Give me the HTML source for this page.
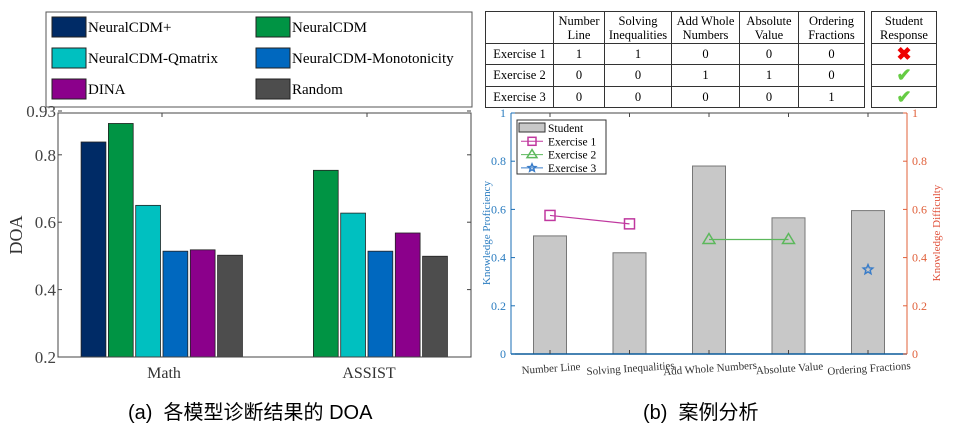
<!DOCTYPE html>
<html><head><meta charset="utf-8"><style>
body{margin:0;width:965px;height:442px;background:#fff;overflow:hidden;font-family:"Liberation Serif",serif}
svg{position:absolute;left:0;top:0}
.cap{position:absolute;top:396px;font-family:"Liberation Sans","Noto Sans CJK SC",sans-serif;font-size:20px}
table{position:absolute;border-collapse:collapse;font-family:"Liberation Serif",serif;font-size:12.5px;text-align:center}
td{border:1px solid #333;padding:0;line-height:14px}
</style></head><body>
<svg width="965" height="442" id="svg">
<g id="left"></g>
<g id="right"></g>
</svg>
<table style="left:485px;top:11px;width:380px;height:97px">
<tr style="height:32px"><td style="width:67px"></td><td style="width:50px">Number<br>Line</td><td style="width:66px">Solving<br>Inequalities</td><td style="width:67px">Add Whole<br>Numbers</td><td style="width:58px">Absolute<br>Value</td><td>Ordering<br>Fractions</td></tr>
<tr><td>Exercise 1</td><td>1</td><td>1</td><td>0</td><td>0</td><td>0</td></tr>
<tr><td>Exercise 2</td><td>0</td><td>0</td><td>1</td><td>1</td><td>0</td></tr>
<tr><td>Exercise 3</td><td>0</td><td>0</td><td>0</td><td>0</td><td>1</td></tr>
</table>
<table style="left:871px;top:11px;width:66px;height:97px">
<tr style="height:32px"><td>Student<br>Response</td></tr>
<tr><td style="color:#e00;font-size:18px;font-weight:bold">✖</td></tr>
<tr><td style="color:#6c4;font-size:18px;font-weight:bold">✔</td></tr>
<tr><td style="color:#6c4;font-size:18px;font-weight:bold">✔</td></tr>
</table>
<div class="cap" style="left:128px">(a)&nbsp; 各模型诊断结果的 DOA</div>
<div class="cap" style="left:643px">(b)&nbsp; 案例分析</div>
<script>
const models=["NeuralCDM+","NeuralCDM","NeuralCDM-Qmatrix","NeuralCDM-Monotonicity","DINA","Random"];
const colors=["#002b66","#009444","#00c0c0","#0068bf","#8b008b","#4d4d4d"];
const groups=["Math","ASSIST"];
const mathDOA=[0.838,0.893,0.650,0.514,0.518,0.502];
const assistDOA=[0.15,0.754,0.627,0.514,0.568,0.499];
const doaTicks=[0.2,0.4,0.6,0.8,0.93];
const skills=["Number Line","Solving Inequalities","Add Whole Numbers","Absolute Value","Ordering Fractions"];
const proficiency=[0.49,0.42,0.78,0.565,0.595];
const ex1=[[0,0.575],[1,0.54]];
const ex2=[[2,0.475],[3,0.475]];
const ex3=[[4,0.35]];
const profTicks=[0,0.2,0.4,0.6,0.8,1];
const NS="http://www.w3.org/2000/svg";
function mk(p,t,a,txt){const e=document.createElementNS(NS,t);for(const k in a)e.setAttribute(k,a[k]);if(txt!=null)e.textContent=txt;p.appendChild(e);return e;}
const L=document.getElementById('left');
const lx0=58,lx1=471,ly=v=>357-(v-0.2)/0.73*246,gx=[162,367],bw=27.3;
mk(L,'rect',{x:46,y:12,width:426,height:95,fill:'#fff',stroke:'#555'});
models.forEach((m,i)=>{const cx=i%2?256:52,cy=17+Math.floor(i/2)*31;
 const r=mk(L,'rect',{x:cx,y:cy,width:34,height:20,fill:colors[i],stroke:'#222'});
 
 const t=mk(L,'text',{x:cx+36,y:cy+15,'font-size':15},m);
 });
[mathDOA,assistDOA].forEach((vals,g)=>vals.forEach((v,i)=>{if(v<=0.2)return;
 const x=gx[g]+(i-2.5)*bw-bw/2+1;
 const r=mk(L,'rect',{x:x,y:ly(v),width:bw-2.5,height:357-ly(v),fill:colors[i],stroke:'#222','stroke-width':0.8});
 }));
mk(L,'rect',{x:lx0,y:113,width:lx1-lx0,height:244,fill:'none',stroke:'#444'});
doaTicks.forEach(v=>{const y=ly(v);mk(L,'line',{x1:lx0,x2:lx0+4,y1:y,y2:y,stroke:'#444'});mk(L,'line',{x1:lx1,x2:lx1-4,y1:y,y2:y,stroke:'#444'});
 const t=mk(L,'text',{x:56,y:y+6,'text-anchor':'end','font-size':17,fill:'#444'},String(v));});
groups.forEach((g,i)=>{mk(L,'line',{x1:gx[i],x2:gx[i],y1:113,y2:117,stroke:'#444'});
 const t=mk(L,'text',{x:gx[i]+2,y:378,'text-anchor':'middle','font-size':16,fill:'#333'},g);});
const yt=mk(L,'text',{x:22,y:235,'text-anchor':'middle','font-size':18,fill:'#333',transform:'rotate(-90 22 235)'},'DOA');
const R=document.getElementById('right');
const rx0=511,rx1=907,ry=v=>354-v*241,cxs=i=>550+i*79.5;
proficiency.forEach((v,i)=>{const r=mk(R,'rect',{x:cxs(i)-16.5,y:ry(v),width:33,height:354-ry(v),fill:'#c8c8c8',stroke:'#777'});});
function series(pts,col,sym,name){const g=mk(R,'g',{});
 if(pts.length>1)mk(g,'polyline',{points:pts.map(p=>cxs(p[0])+','+ry(p[1])).join(' '),fill:'none',stroke:col,'stroke-width':1.2});
 pts.forEach(p=>marker(g,cxs(p[0]),ry(p[1]),col,sym,5));}
function marker(g,x,y,col,sym,s){if(sym=='sq')mk(g,'rect',{x:x-s,y:y-s,width:2*s,height:2*s,fill:'none',stroke:col,'stroke-width':1.5});
 else if(sym=='tri')mk(g,'polygon',{points:`${x},${y-s-1} ${x-s-1},${y+s-1} ${x+s+1},${y+s-1}`,fill:'none',stroke:col,'stroke-width':1.5});
 else{let p=[];for(let k=0;k<10;k++){const a=-Math.PI/2+k*Math.PI/5,rr=k%2?s*0.45:s;p.push((x+rr*Math.cos(a))+','+(y+rr*Math.sin(a)));}mk(g,'polygon',{points:p.join(' '),fill:'none',stroke:col,'stroke-width':1.5});}}
series(ex1,'#c0389f','sq','exercise-1-series');
series(ex2,'#5cb85c','tri','exercise-2-series');
series(ex3,'#3a7dc9','star','exercise-3-series');
mk(R,'line',{x1:rx0,x2:rx1,y1:113,y2:113,stroke:'#444'});
mk(R,'line',{x1:rx0,x2:rx1,y1:354,y2:354,stroke:'#0a5a9a','stroke-width':1.5});
mk(R,'line',{x1:rx0,x2:rx0,y1:113,y2:354,stroke:'#1a6eb5'});
mk(R,'line',{x1:rx1,x2:rx1,y1:113,y2:354,stroke:'#e0603a'});
profTicks.forEach(v=>{const y=ry(v);mk(R,'line',{x1:rx0,x2:rx0+4,y1:y,y2:y,stroke:'#1a6eb5'});mk(R,'line',{x1:rx1,x2:rx1-4,y1:y,y2:y,stroke:'#e0603a'});
 const a=mk(R,'text',{x:506,y:y+4,'text-anchor':'end','font-size':12,fill:'#2a7cc0'},String(v));
 const b=mk(R,'text',{x:912,y:y+4,'font-size':12,fill:'#e0603a'},String(v));});
skills.forEach((s,i)=>{mk(R,'line',{x1:cxs(i),x2:cxs(i),y1:113,y2:117,stroke:'#444'});mk(R,'line',{x1:cxs(i),x2:cxs(i),y1:354,y2:350,stroke:'#444'});
 const t=mk(R,'text',{x:cxs(i)+1,y:372,'text-anchor':'middle','font-size':11,fill:'#333',transform:`rotate(-4 ${cxs(i)} 368)`},s);});
const a1=mk(R,'text',{x:490,y:233,'text-anchor':'middle','font-size':11,fill:'#2a7cc0',transform:'rotate(-90 490 233)'},'Knowledge Proficiency');
const a2=mk(R,'text',{x:940,y:233,'text-anchor':'middle','font-size':11,fill:'#e0503a',transform:'rotate(-90 940 233)'},'Knowledge Difficulty');
const lg=mk(R,'g',{});
mk(lg,'rect',{x:517,y:120,width:89,height:54,fill:'#fff',stroke:'#333'});
mk(lg,'rect',{x:519,y:123,width:26,height:9,fill:'#c8c8c8',stroke:'#333'});
[['Student',''],['Exercise 1','#c0389f','sq'],['Exercise 2','#5cb85c','tri'],['Exercise 3','#3a7dc9','star']].forEach((e,i)=>{const y=128+i*13.3;
 if(i){mk(lg,'line',{x1:521,x2:543,y1:y,y2:y,stroke:e[1]});marker(lg,532,y,e[1],e[2],4);}
 mk(lg,'text',{x:548,y:y+4,'font-size':11.5},e[0]);});
</script>
</body></html>
